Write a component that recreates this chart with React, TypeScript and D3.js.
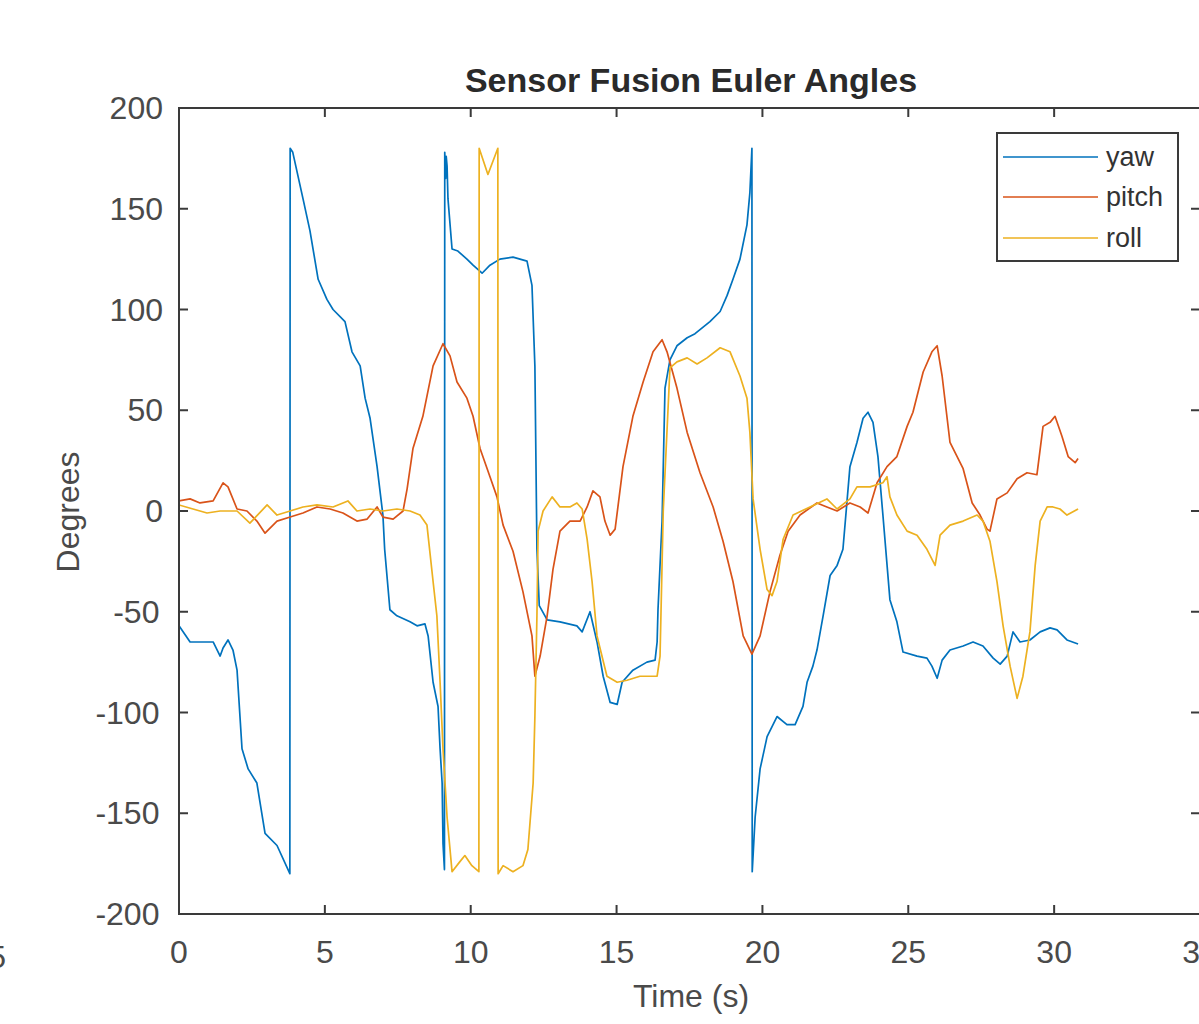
import React from "react";
import * as d3 from "d3";

const title = "Sensor Fusion Euler Angles";
const xLabel = "Time (s)";
const yLabel = "Degrees";
const xTicks = [0, 5, 10, 15, 20, 25, 30, 35];
const yTicks = [-200, -150, -100, -50, 0, 50, 100, 150, 200];
const seriesNames = ["yaw", "pitch", "roll"];
const seriesColors = ["#0072BD", "#D95319", "#EDB120"];

const yawData: [number, number][] = [
  [0, -57], [0.38, -65], [0.82, -65], [1.17, -65], [1.41, -72], [1.51, -68], [1.68, -64], [1.85, -69],
  [1.99, -79], [2.16, -118], [2.37, -128], [2.67, -135], [2.95, -160], [3.36, -166], [3.8, -180],
  [3.81, 180], [3.9, 178], [4.25, 155], [4.49, 139], [4.77, 115], [5.07, 105], [5.28, 100], [5.69, 94],
  [5.93, 79], [6.21, 72], [6.38, 56], [6.55, 46], [6.79, 22], [6.99, -2], [7.05, -19], [7.23, -49],
  [7.47, -52], [7.92, -55], [8.16, -57], [8.43, -56], [8.54, -62], [8.71, -85], [8.88, -97], [8.95, -118],
  [9.02, -135], [9.05, -165], [9.1, -178], [9.11, 178], [9.14, 165], [9.16, 176], [9.19, 171], [9.22, 155],
  [9.36, 130], [9.56, 129], [9.87, 125], [10.08, 122], [10.39, 118], [10.66, 122], [11.0, 125], [11.45, 126],
  [11.93, 124], [12.1, 112], [12.2, 72], [12.27, -19], [12.35, -47], [12.62, -54], [13.06, -55], [13.64, -57],
  [13.82, -60], [14.09, -50], [14.33, -65], [14.54, -82], [14.78, -95], [15.02, -96], [15.19, -85],
  [15.56, -79], [16.04, -75], [16.32, -74], [16.39, -65], [16.42, -49], [16.56, -5], [16.66, 61],
  [16.83, 75], [17.07, 82], [17.42, 86], [17.69, 88], [17.86, 90], [18.2, 94], [18.55, 99], [18.79, 107],
  [18.99, 115], [19.23, 125], [19.47, 142], [19.57, 158], [19.64, 180], [19.65, -179], [19.75, -152],
  [19.92, -128], [20.16, -112], [20.5, -102], [20.84, -106], [21.12, -106], [21.39, -97], [21.53, -85],
  [21.73, -77], [21.87, -69], [22.08, -52], [22.32, -32], [22.56, -27], [22.76, -19], [23.0, 22],
  [23.24, 34], [23.45, 46], [23.62, 49], [23.79, 44], [23.96, 27], [24.13, -2], [24.37, -44], [24.61, -55],
  [24.82, -70], [25.3, -72], [25.64, -73], [25.81, -77], [25.99, -83], [26.16, -74], [26.43, -69],
  [26.88, -67], [27.22, -65], [27.56, -67], [27.91, -73], [28.15, -76], [28.39, -72], [28.59, -60],
  [28.83, -65], [29.17, -64], [29.52, -60], [29.86, -58], [30.1, -59], [30.44, -64], [30.82, -66],
];

const pitchData: [number, number][] = [
  [0, 5], [0.38, 6], [0.72, 4], [1.17, 5], [1.51, 14], [1.68, 12], [1.99, 1], [2.33, 0], [2.67, -5],
  [2.95, -11], [3.36, -5], [3.81, -3], [4.25, -1], [4.73, 2], [5.18, 1], [5.62, -1], [6.1, -5], [6.45, -4],
  [6.79, 2], [6.99, -3], [7.34, -4], [7.68, 0], [7.82, 11], [8.02, 31], [8.36, 47], [8.71, 72], [9.05, 83],
  [9.29, 77], [9.53, 64], [9.87, 56], [10.08, 47], [10.32, 31], [10.66, 17], [10.9, 7], [11.11, -7],
  [11.45, -20], [11.79, -40], [12.1, -62], [12.2, -82], [12.38, -72], [12.62, -52], [12.82, -29],
  [13.06, -10], [13.4, -5], [13.75, -5], [13.99, 2], [14.19, 10], [14.43, 7], [14.6, -5], [14.78, -12],
  [14.95, -9], [15.22, 22], [15.56, 47], [15.91, 64], [16.25, 79], [16.56, 85], [16.73, 79], [17.07, 61],
  [17.42, 39], [17.86, 19], [18.31, 2], [18.65, -15], [18.99, -35], [19.34, -62], [19.64, -71],
  [19.92, -62], [20.26, -40], [20.6, -22], [20.88, -10], [21.29, -2], [21.87, 4], [22.21, 2], [22.56, 0],
  [23.0, 4], [23.35, 2], [23.62, -1], [23.93, 14], [24.27, 22], [24.61, 27], [24.96, 42], [25.16, 49],
  [25.51, 69], [25.81, 79], [25.99, 82], [26.16, 67], [26.43, 34], [26.88, 21], [27.19, 4], [27.46, -2],
  [27.7, -9], [27.8, -10], [28.04, 6], [28.39, 9], [28.73, 16], [29.07, 19], [29.41, 18], [29.62, 42],
  [29.86, 44], [30.03, 47], [30.27, 37], [30.48, 27], [30.72, 24], [30.82, 26],
];

const rollData: [number, number][] = [
  [0, 3], [0.48, 1], [0.96, -1], [1.41, 0], [1.99, 0], [2.43, -6], [3.02, 3], [3.36, -2], [3.81, 0],
  [4.25, 2], [4.73, 3], [5.28, 2], [5.79, 5], [6.1, 0], [6.55, 1], [6.99, 0], [7.47, 1], [7.92, 0],
  [8.26, -2], [8.5, -7], [8.71, -35], [8.84, -52], [8.95, -85], [9.05, -118], [9.19, -152], [9.36, -179],
  [9.63, -174], [9.8, -171], [10.04, -176], [10.28, -179], [10.29, 180], [10.59, 167], [10.93, 180],
  [10.94, -180], [11.11, -176], [11.45, -179], [11.79, -176], [11.96, -168], [12.14, -135], [12.2, -102],
  [12.27, -52], [12.31, -10], [12.48, 0], [12.79, 7], [13.06, 2], [13.4, 2], [13.64, 4], [13.82, 1],
  [13.99, -14], [14.16, -35], [14.33, -62], [14.67, -82], [15.02, -85], [15.36, -84], [15.8, -82],
  [16.39, -82], [16.49, -72], [16.6, 0], [16.83, 71], [17.07, 74], [17.42, 76], [17.76, 73], [18.1, 76],
  [18.55, 81], [18.89, 79], [19.23, 67], [19.47, 56], [19.57, 39], [19.68, 6], [19.92, -19], [20.16, -39],
  [20.33, -42], [20.5, -35], [20.71, -14], [21.05, -2], [21.63, 2], [22.21, 6], [22.56, 1], [23.0, 6],
  [23.24, 12], [23.69, 12], [24.13, 14], [24.27, 17], [24.37, 7], [24.61, -2], [24.96, -10], [25.3, -12],
  [25.64, -19], [25.92, -27], [26.09, -12], [26.43, -7], [26.88, -5], [27.36, -2], [27.56, -5],
  [27.8, -15], [28.04, -35], [28.25, -57], [28.49, -77], [28.73, -93], [28.93, -82], [29.17, -60],
  [29.35, -27], [29.52, -5], [29.76, 2], [29.96, 2], [30.2, 1], [30.44, -2], [30.82, 1],
];

const allSeries = [yawData, pitchData, rollData];

export default function App() {
  const W = 1199, H = 1024;
  const left = 179, right = 1200, top = 108, bottom = 914;
  const x = d3.scaleLinear().domain([0, 35]).range([left, right]);
  const y = d3.scaleLinear().domain([-200, 200]).range([bottom, top]);
  const line = d3.line<[number, number]>().x((d) => x(d[0])).y((d) => y(d[1]));
  const axisColor = "#3a3a3a";
  const font = "'Liberation Sans', Arial, sans-serif";
  const tickLen = 9;

  const legX = 997, legY = 133, legW = 181, legH = 128;
  const legRows = [157, 197, 238];

  return (
    <svg width={W} height={H} style={{ position: "absolute", left: 0, top: 0, background: "#fff" }} fontFamily={font}>
      <rect x={0} y={0} width={W} height={H} fill="#fff" />
      <defs>
        <clipPath id="plotclip">
          <rect x={left} y={top} width={right - left} height={bottom - top} />
        </clipPath>
      </defs>
      {/* stray fragment from neighbouring axes */}
      <text x={6} y={968} fontSize={32} fill="#4a4a4a" textAnchor="end">35</text>

      {/* data lines */}
      <g clipPath="url(#plotclip)">
        {allSeries.map((s, i) => (
          <path key={i} d={line(s) || ""} fill="none" stroke={seriesColors[i]} strokeWidth={1.7} strokeLinejoin="round" />
        ))}
      </g>

      {/* axes box */}
      <rect x={left} y={top} width={right - left} height={bottom - top} fill="none" stroke={axisColor} strokeWidth={2} />
      {xTicks.map((t) => (
        <g key={"xt" + t}>
          <line x1={x(t)} x2={x(t)} y1={bottom} y2={bottom - tickLen} stroke={axisColor} strokeWidth={2} />
          <line x1={x(t)} x2={x(t)} y1={top} y2={top + tickLen} stroke={axisColor} strokeWidth={2} />
          <text x={x(t)} y={963} fontSize={32} fill="#4a4a4a" textAnchor="middle">{t}</text>
        </g>
      ))}
      {yTicks.map((t) => (
        <g key={"yt" + t}>
          <line x1={left} x2={left + tickLen} y1={y(t)} y2={y(t)} stroke={axisColor} strokeWidth={2} />
          <line x1={right} x2={right - tickLen} y1={y(t)} y2={y(t)} stroke={axisColor} strokeWidth={2} />
          <text x={163} y={y(t) + 11} fontSize={32} fill="#4a4a4a" textAnchor="middle" dx={-(String(t).length * 8.9)}>{t}</text>
        </g>
      ))}

      {/* labels */}
      <text x={691} y={92} fontSize={34} fontWeight="bold" fill="#2a2a2a" textAnchor="middle">{title}</text>
      <text x={691} y={1007} fontSize={32} fill="#4a4a4a" textAnchor="middle">{xLabel}</text>
      <text transform={`translate(79,512) rotate(-90)`} fontSize={32} fill="#4a4a4a" textAnchor="middle">{yLabel}</text>

      {/* legend */}
      <rect x={legX} y={legY} width={legW} height={legH} fill="#fff" stroke={axisColor} strokeWidth={2} />
      {seriesNames.map((n, i) => (
        <g key={n}>
          <line x1={1003} x2={1098} y1={legRows[i]} y2={legRows[i]} stroke={seriesColors[i]} strokeWidth={1.7} />
          <text x={1106} y={legRows[i] + 9} fontSize={27} fill="#333">{n}</text>
        </g>
      ))}
    </svg>
  );
}
